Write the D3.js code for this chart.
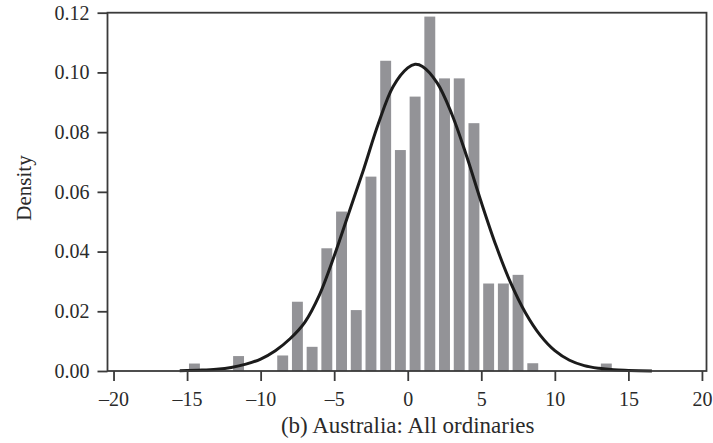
<!DOCTYPE html>
<html>
<head>
<meta charset="utf-8">
<script src="https://cdn.jsdelivr.net/npm/d3@7"></script>
<style>
  html, body { margin: 0; padding: 0; background: #fff; }
  svg { display: block; }
  text { font-family: "Liberation Serif", "Times New Roman", serif; fill: #2a2a2a; }
</style>
</head>
<body>
<svg id="chart" width="713" height="443"></svg>
<script>
// Histogram of monthly returns: left edge of each unit-wide bin and its density
const binStarts = [-15, -12, -9, -8, -7, -6, -5, -4, -3, -2, -1, 0, 1, 2, 3, 4, 5, 6, 7, 8, 13];
const binDensity = [0.0025, 0.005, 0.0052, 0.0232, 0.0081, 0.0411, 0.0534, 0.0204, 0.0651, 0.1039,
                    0.074, 0.0919, 0.1187, 0.098, 0.098, 0.083, 0.0293, 0.0293, 0.0322, 0.0026, 0.0025];

// Fitted density curve, sampled points
const curveX = [-15.5, -14, -13, -12, -11, -10, -9, -8, -7, -6, -5, -4, -3, -2, -1, 0, 0.5, 1, 2, 3,
                4, 5, 6, 7, 8, 9, 10, 11, 12, 13, 14, 15, 16.6];
const curveY = [0.0001, 0.0003, 0.0006, 0.0012, 0.0023, 0.0040, 0.0068, 0.0108, 0.0163, 0.0255,
                0.0385, 0.0530, 0.0675, 0.0828, 0.0952, 0.1015, 0.1027, 0.1020, 0.0965, 0.0860,
                0.0720, 0.0565, 0.0420, 0.0295, 0.0195, 0.0120, 0.0068, 0.0036, 0.0018, 0.0009,
                0.0004, 0.0002, 0.0000];

const xTicks = [-20, -15, -10, -5, 0, 5, 10, 15, 20];
const yTicks = [0, 0.02, 0.04, 0.06, 0.08, 0.10, 0.12];
const yLabel = "Density";
const caption = "(b) Australia: All ordinaries";

const svg = d3.select("#chart");
const plot = { left: 107.5, right: 706.5, top: 12.7, bottom: 371 };

const x = d3.scaleLinear().domain([-20.41, 20.31]).range([plot.left, plot.right]);
const y = d3.scaleLinear().domain([0, 0.12]).range([plot.bottom, plot.top]);

// Bars
const bins = binStarts.map((s, i) => ({ x0: s, x1: s + 1, d: binDensity[i] }));
const pad = 1.9;
svg.append("g")
  .selectAll("rect")
  .data(bins)
  .join("rect")
  .attr("x", b => x(b.x0) + pad)
  .attr("width", b => x(b.x1) - x(b.x0) - 2 * pad)
  .attr("y", b => y(b.d))
  .attr("height", b => y(0) - y(b.d))
  .attr("fill", "#939397");

// Density curve
const pts = curveX.map((v, i) => [v, curveY[i]]);
svg.append("path")
  .datum(pts)
  .attr("fill", "none")
  .attr("stroke", "#1b1b1b")
  .attr("stroke-width", 3)
  .attr("stroke-linejoin", "round")
  .attr("d", d3.line().x(p => x(p[0])).y(p => y(p[1])).curve(d3.curveCatmullRom.alpha(0.5)));

// Frame
svg.append("rect")
  .attr("x", plot.left)
  .attr("y", plot.top)
  .attr("width", plot.right - plot.left)
  .attr("height", plot.bottom - plot.top)
  .attr("fill", "none")
  .attr("stroke", "#3a3a3a")
  .attr("stroke-width", 1.8);

// Axes
const fmtX = d => d < 0 ? "\u2013" + Math.abs(d) : String(d);
const xAxis = svg.append("g")
  .attr("transform", `translate(0,${plot.bottom})`)
  .call(d3.axisBottom(x).tickValues(xTicks).tickFormat(fmtX).tickSize(10).tickPadding(11));
const yAxis = svg.append("g")
  .attr("transform", `translate(${plot.left},0)`)
  .call(d3.axisLeft(y).tickValues(yTicks).tickFormat(d3.format(".2f")).tickSize(10).tickPadding(8));

[xAxis, yAxis].forEach(g => {
  g.select(".domain").remove();
  g.selectAll(".tick line").attr("stroke", "#3a3a3a").attr("stroke-width", 1.8);
  g.selectAll(".tick text")
    .attr("fill", "#2a2a2a")
    .style("font-family", "'Liberation Serif', 'Times New Roman', serif")
    .style("font-size", "20px");
});

// Axis titles
svg.append("text")
  .attr("transform", "translate(31,188) rotate(-90)")
  .attr("text-anchor", "middle")
  .style("font-size", "21px")
  .text(yLabel);

svg.append("text")
  .attr("x", x(0))
  .attr("y", 433)
  .attr("text-anchor", "middle")
  .style("font-size", "23px")
  .text(caption);
</script>
</body>
</html>
